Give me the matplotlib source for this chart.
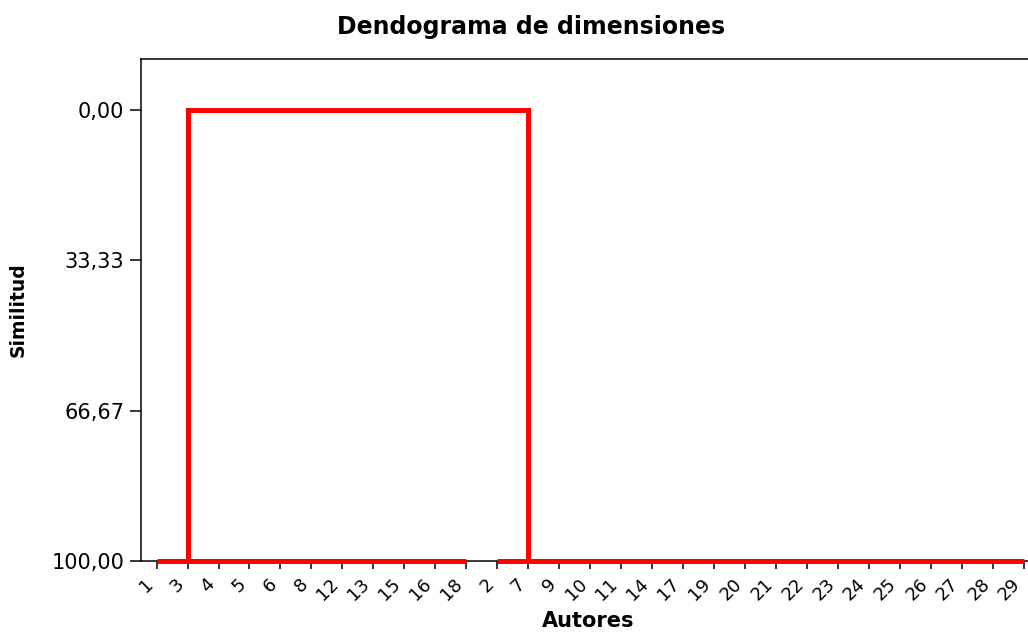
import matplotlib
matplotlib.use('Agg')
import matplotlib.pyplot as plt

# leaf order along the x axis
leaf_labels = ['1', '3', '4', '5', '6', '8', '12', '13', '15', '16', '18',
               '2', '7', '9', '10', '11', '14', '17', '19', '20', '21', '22',
               '23', '24', '25', '26', '27', '28', '29']
group_sizes = [11, 18]
link_leaves = ['3', '7']
base_level = 100.0
merge_level = 0.0
ytick_vals = [0.0, 33.33, 66.67, 100.0]
ytick_text = ['0,00', '33,33', '66,67', '100,00']

red = '#ff0000'
lw = 3.6

fig = plt.figure(figsize=(10.28, 6.32), dpi=100)
ax = fig.add_axes([0.1372, 0.1123, 0.8696, 0.7936])

pos = list(range(len(leaf_labels)))
start = 0
for size in group_sizes:
    ax.plot([pos[start], pos[start + size - 1]], [base_level, base_level],
            color=red, lw=lw, solid_capstyle='butt', zorder=3, clip_on=False)
    start += size

link_x = [leaf_labels.index(l) for l in link_leaves]
ax.plot([link_x[0], link_x[0], link_x[1], link_x[1]],
        [base_level, merge_level, merge_level, base_level],
        color=red, lw=lw, solid_joinstyle='miter', zorder=3, clip_on=False)

ax.set_xlim(-0.5, 28.35)
ax.set_ylim(base_level, -11.22)
ax.set_xticks(pos)
ax.set_xticklabels(leaf_labels, rotation=45, ha='right', fontsize=13)
ax.set_yticks(ytick_vals)
ax.set_yticklabels(ytick_text, fontsize=15)
ax.tick_params(axis='y', length=8, width=1.1, pad=4)
ax.tick_params(axis='x', length=6, width=1.1, pad=4)
for s in ax.spines.values():
    s.set_linewidth(1.1)

fig.text(531 / 1028, 1 - 27 / 632, 'Dendograma de dimensiones', ha='center',
         va='center', fontsize=17, fontweight='bold')
fig.text(588 / 1028, 1 - 621 / 632, 'Autores', ha='center', va='center',
         fontsize=15, fontweight='bold')
fig.text(18 / 1028, 1 - 310 / 632, 'Similitud', ha='center', va='center',
         rotation=90, fontsize=13.5, fontweight='bold')

fig.savefig('out.png', dpi=100)
